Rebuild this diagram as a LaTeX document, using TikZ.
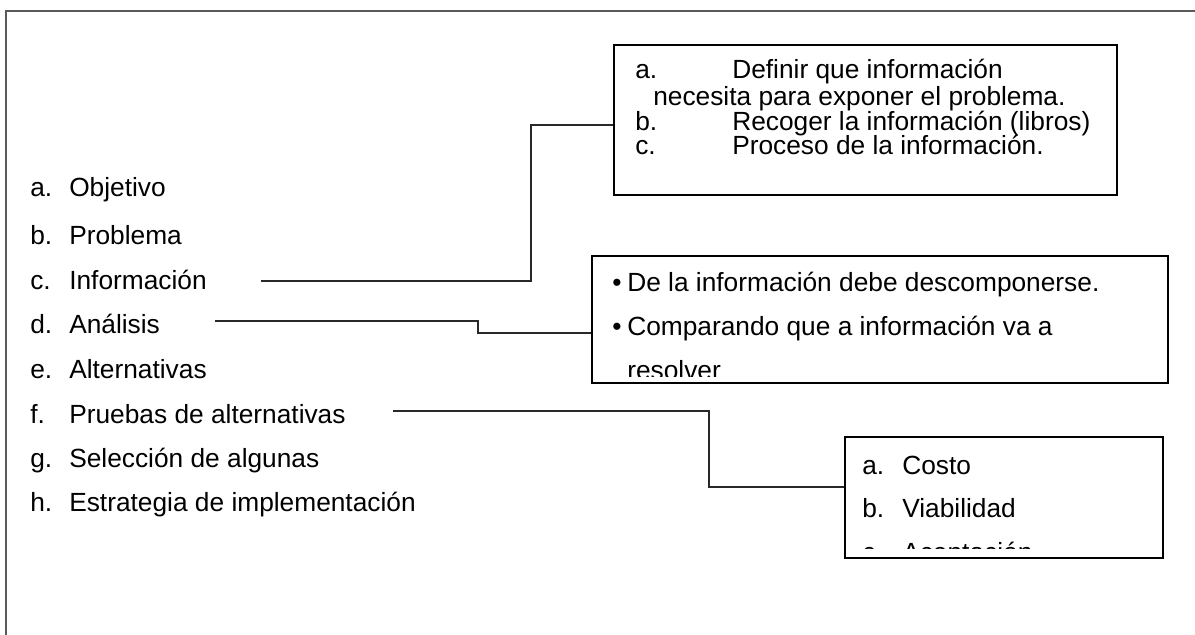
\documentclass[tikz,border=0pt]{standalone}
\usepackage{fontspec}
\setmainfont{Liberation Sans}
\usepackage{tikz}
\definecolor{framegray}{RGB}{90,90,90}
\definecolor{linegray}{RGB}{40,40,40}

\newcommand{\lbl}[3]{\makebox[#1][l]{#2}#3}

\begin{document}
\begin{tikzpicture}[
  x=0.025cm, y=-0.025cm,
  item/.style={anchor=base west, inner sep=0pt, font=\fontsize{18.7}{22}\selectfont},
  box/.style={draw=black, line width=1.1pt, inner sep=0pt},
  link/.style={draw=linegray, line width=1pt},
  frame/.style={draw=framegray, line width=1.6pt}
]
\useasboundingbox (0,0) rectangle (1195,635);

% Open page frame
\draw[frame] (6,635) -- (6,11) -- (1195,11);

% Steps of the method
\node[item] (la) at (30,197) {\lbl{0.975cm}{a.}{Objetivo}};
\node[item] (lb) at (30,245) {\lbl{0.975cm}{b.}{Problema}};
\node[item] (lc) at (30,290) {\lbl{0.975cm}{c.}{Información}};
\node[item] (ld) at (30,334) {\lbl{0.975cm}{d.}{Análisis}};
\node[item] (le) at (30,378) {\lbl{0.975cm}{e.}{Alternativas}};
\node[item] (lf) at (30,423) {\lbl{0.975cm}{f.}{Pruebas de alternativas}};
\node[item] (lg) at (30,467) {\lbl{0.975cm}{g.}{Selección de algunas}};
\node[item] (lh) at (30,511) {\lbl{0.975cm}{h.}{Estrategia de implementación}};

% Detail boxes
\node[box, minimum width=12.575cm, minimum height=3.75cm] (info) at (865.5,120) {};
\node[box, minimum width=14.4cm, minimum height=3.175cm] (anal) at (880,319.5) {};
\node[box, minimum width=7.95cm, minimum height=3.025cm] (prue) at (1004,497.5) {};

% Informacion
\node[item] (i1) at (635,79) {\lbl{2.425cm}{a.}{Definir que información}};
\node[item] (i2) at (653,106) {necesita para exponer el problema.};
\node[item] (i3) at (635,131) {\lbl{2.425cm}{b.}{Recoger la información (libros)}};
\node[item] (i4) at (635,155) {\lbl{2.425cm}{c.}{Proceso de la información.}};

% Analisis (text runs past the box)
\begin{scope}
  \clip (592,256) rectangle (1168,376);
  \node[item] (a1) at (612,292) {\lbl{0.375cm}{•}{De la información debe descomponerse.}};
  \node[item] (a2) at (612,336) {\lbl{0.375cm}{•}{Comparando que a información va a}};
  \node[item] (a3) at (627,379) {resolver};
\end{scope}

% Pruebas (text runs past the box)
\begin{scope}
  \clip (845,437) rectangle (1163,548);
  \node[item] (p1) at (862,474) {\lbl{1cm}{a.}{Costo}};
  \node[item] (p2) at (862,517) {\lbl{1cm}{b.}{Viabilidad}};
  \node[item] (p3) at (862,561) {\lbl{1cm}{c.}{Aceptación}};
\end{scope}

% Connectors
\coordinate (sc) at (261,281);
\coordinate (sd) at (215,321);
\coordinate (sf) at (393,411);
\draw[link] (sc) -- (531,281) |- (info.west |- 0,125);
\draw[link] (sd) -- (478,321) |- (anal.west |- 0,333);
\draw[link] (sf) -- (709,411) |- (prue.west |- 0,487);

\end{tikzpicture}
\end{document}
